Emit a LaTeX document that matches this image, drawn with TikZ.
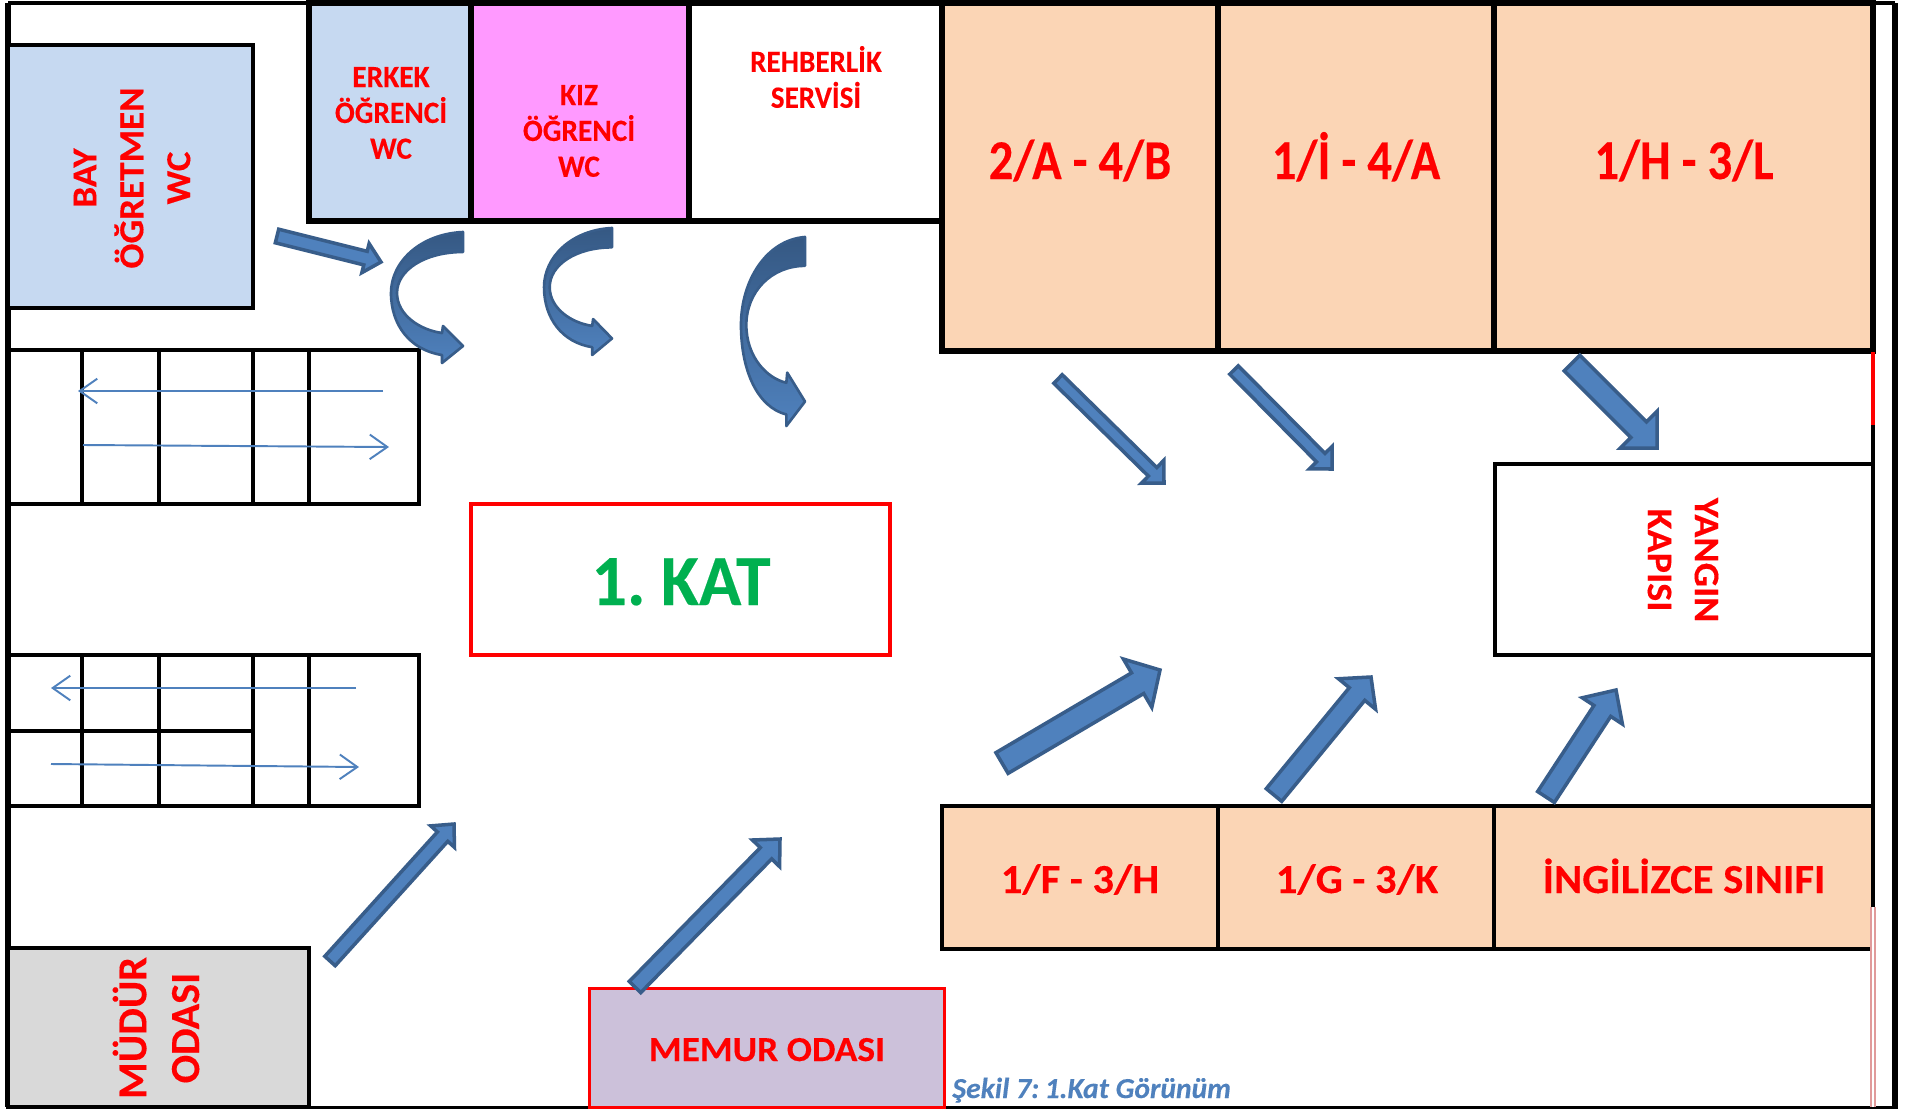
\documentclass[tikz,border=0pt]{standalone}
\usepackage{fontspec}
\setmainfont{Carlito}
\usetikzlibrary{positioning,calc,arrows.meta}
\newcommand{\fs}[3]{\fontsize{#1}{#2}\selectfont\addfontfeature{FakeStretch=#3,FakeBold=0.2}}
\def\px{0.02cm}
\definecolor{wcblue}{HTML}{C6D9F1}
\definecolor{wcpink}{HTML}{FF99FF}
\definecolor{classpeach}{HTML}{FBD5B5}
\definecolor{mudurgray}{HTML}{D9D9D9}
\definecolor{memurlila}{HTML}{CCC1DA}
\definecolor{arrowfill}{HTML}{4F81BD}
\definecolor{arrowedge}{HTML}{385D8A}
\definecolor{katgreen}{HTML}{00B050}
\definecolor{pinkline}{HTML}{E09A9A}
\begin{document}
\begin{tikzpicture}[x=0.02cm,y=-0.02cm,
    room/.style={draw=black,anchor=north west,inner sep=0pt,outer sep=0pt,line width=2.6pt},
    stair/.style={draw=black,line width=2.1pt},
    redroom/.style={room,draw=red,line width=1.7pt},
    lbl/.style={text=red,font=\bfseries,inner sep=0pt,align=center},
    blockarrow/.style={draw=arrowedge,fill=arrowfill,line width=2pt,line join=miter},
    bentarrow/.style={draw=arrowedge,top color=arrowedge!95!black,bottom color=arrowfill,line width=1.5pt,line join=round},
    thinarrow/.style={draw=arrowfill,line width=1.1pt,-{Straight Barb[length=10pt,width=14pt]}}]

	\useasboundingbox (0,0) rectangle (1905,1109);
	\fill[white] (0,0) rectangle (1905,1109);

	% outer walls
	\draw[line width=3.2pt] (8,3) -- (8,1107);
	\draw[line width=2.2pt] (8,3) -- (1895,3);
	\draw[line width=2pt] (8,1107.5) -- (1898,1107.5);
	\draw[line width=3.4pt] (1895,3) -- (1895,1107);

	% top row
	\node[room,fill=wcblue,line width=3.1pt,minimum width=162*\px,minimum height=218*\px] (erkek) at (309,3) {};
	\node[room,fill=wcpink,line width=3.1pt,minimum width=218*\px,minimum height=218*\px] (kiz) at (471,3) {};
	\node[room,line width=3.1pt,minimum width=253*\px,minimum height=218*\px] (rehber) at (689,3) {};
	\node[room,fill=classpeach,line width=3.3pt,minimum width=276*\px,minimum height=348*\px] (ikia) at (942,3) {};
	\node[room,fill=classpeach,line width=3.3pt,minimum width=276*\px,minimum height=348*\px] (birI) at (1218,3) {};
	\node[room,fill=classpeach,line width=3.3pt,minimum width=379*\px,minimum height=348*\px] (birH) at (1494,3) {};
	\node[room,fill=wcblue,minimum width=245*\px,minimum height=263*\px] (bay) at (8,45) {};

	% stairs
	\node[room,stair,minimum width=411*\px,minimum height=154*\px] (stairup) at (8,350) {};
	\node[room,stair,minimum width=411*\px,minimum height=151*\px] (stairdown) at (8,655) {};
	\foreach \sx in {82,159,253,309} {
		\draw[stair] (\sx,350) -- (\sx,504);
		\draw[stair] (\sx,655) -- (\sx,806);
	}
	\coordinate (stairmidL) at (8,731);
	\coordinate (stairmidR) at (253,731);
	\draw[stair] (stairmidL) -- (stairmidR);

	% lower rooms
	\node[room,fill=mudurgray,line width=2.1pt,minimum width=301*\px,minimum height=159*\px] (mudur) at (8,948) {};
	\node[redroom,fill=memurlila,minimum width=355*\px,minimum height=119*\px] (memur) at (589,988) {};
	\node[redroom,line width=2.1pt,minimum width=419*\px,minimum height=151*\px] (kat) at (471,504) {};
	\node[room,minimum width=378*\px,minimum height=191*\px] (yangin) at (1495,464) {};
	\node[room,fill=classpeach,minimum width=276*\px,minimum height=143*\px] (birF) at (942,806) {};
	\node[room,fill=classpeach,minimum width=276*\px,minimum height=143*\px] (birG) at (1218,806) {};
	\node[room,fill=classpeach,minimum width=379*\px,minimum height=143*\px] (ingilizce) at (1494,806) {};

	% right wall pieces
	\coordinate (rw1) at (1873,352);
	\coordinate (rw2) at (1873,425);
	\coordinate (rw3) at (1873,907);
	\coordinate (rw4) at (1873,1107);
	\draw[red,line width=2.2pt] (rw1) -- (rw2);
	\draw[black,line width=2.2pt] (rw2) -- (rw3);
	\draw[pinkline,line width=1.2pt,double=white,double distance=1pt] (rw3) -- (rw4);

	% labels
	\node[lbl,rotate=90,font=\bfseries\fs{20}{26.7}{1.057}] (baytxt) at (132,178) {BAY\\ÖĞRETMEN\\WC};
	\node[lbl,font=\bfseries\fs{17.6}{20.4}{0.95}] (erkektxt) at (391,113) {ERKEK\\ÖĞRENCİ\\WC};
	\node[lbl,font=\bfseries\fs{17.6}{20.4}{0.95}] (kiztxt) at (579,131) {KIZ\\ÖĞRENCİ\\WC};
	\node[lbl,font=\bfseries\fs{17.6}{20.4}{0.94}] (rehbertxt) at (816,77) {REHBERLİK\\SERVİSİ};
	\node[lbl,anchor=base,font=\bfseries\fs{32}{36}{0.865}] (ikiatxt) at (1080,179) {2/A - 4/B};
	\node[lbl,anchor=base,font=\bfseries\fs{32}{36}{0.865}] (birItxt) at (1356,179) {1/İ - 4/A};
	\node[lbl,anchor=base,font=\bfseries\fs{32}{36}{0.865}] (birHtxt) at (1684,179) {1/H - 3/L};
	\node[lbl,anchor=base,text=katgreen,font=\bfseries\fs{41}{46}{0.97}] (kattxt) at (681,605) {1.\hspace{-.08em} KAT};
	\node[lbl,rotate=-90,font=\bfseries\fs{20.5}{26.7}{1.06}] (yangintxt) at (1683,560) {YANGIN\\KAPISI};
	\node[lbl,anchor=base,font=\bfseries\fs{23.5}{28}{1.03}] (birFtxt) at (1080,893) {1/F - 3/H};
	\node[lbl,anchor=base,font=\bfseries\fs{23.5}{28}{1.03}] (birGtxt) at (1357,893) {1/G - 3/K};
	\node[lbl,anchor=base,font=\bfseries\fs{23.5}{28}{1.035}] (ingtxt) at (1684,893) {İNGİLİZCE SINIFI};
	\node[lbl,rotate=90,font=\bfseries\fs{23.5}{30}{1.02}] (mudurtxt) at (156,1028) {MÜDÜR\\ODASI};
	\node[lbl,anchor=base,font=\bfseries\fs{20}{24}{1.066}] (memurtxt) at (767,1061) {MEMUR ODASI};
	\node[inner sep=0pt,anchor=base west,text=arrowfill,font=\bfseries\itshape\fs{16.5}{20}{1.02}] (sekil) at (952,1098) {Şekil 7:\hspace{-.12em} 1.Kat Görünüm};

	% thin arrows on the stairs
	\coordinate (a1s) at (383,391); \coordinate (a1e) at (78,391);
	\coordinate (a2s) at (83,445); \coordinate (a2e) at (389,447);
	\coordinate (a3s) at (356,688); \coordinate (a3e) at (51,688);
	\coordinate (a4s) at (51,764); \coordinate (a4e) at (359,767);
	\foreach \st/\en in {a1s/a1e,a2s/a2e,a3s/a3e,a4s/a4e}
		\draw[thinarrow] (\st) -- (\en);

	% block arrows
	\coordinate (b1s) at (1058,379); \coordinate (b1e) at (1164,483);
	\coordinate (b2s) at (1234,370); \coordinate (b2e) at (1332,469);
	\coordinate (b3s) at (1572,363); \coordinate (b3e) at (1657,448);
	\coordinate (b4s) at (1002,763); \coordinate (b4e) at (1160,670);
	\coordinate (b5s) at (1274,795); \coordinate (b5e) at (1371,677);
	\coordinate (b6s) at (1546,797); \coordinate (b6e) at (1616,690);
	\coordinate (b7s) at (330,961); \coordinate (b7e) at (454,824);
	\coordinate (b8s) at (635,987); \coordinate (b8e) at (780,839);
	\coordinate (b9s) at (277,236); \coordinate (b9e) at (381,262);
	\foreach \st/\en/\wd/\hw/\hl in {b1s/b1e/6/16/16,b2s/b2e/6/16/16,b3s/b3e/11/26/26,
			b4s/b4e/12/28/26,b5s/b5e/10/24/22,b6s/b6e/10/24/25,
			b7s/b7e/7/16/17,b8s/b8e/8/19/20,b9s/b9e/7/15/16}
		\draw[blockarrow] ($(\st)!\wd*\px!90:(\en)$)
			-- ($(\en)!\hl*\px!(\st)!\wd*\px!-90:(\st)$)
			-- ($(\en)!\hl*\px!(\st)!\hw*\px!-90:(\st)$)
			-- (\en)
			-- ($(\en)!\hl*\px!(\st)!\hw*\px!90:(\st)$)
			-- ($(\en)!\hl*\px!(\st)!\wd*\px!90:(\st)$)
			-- ($(\st)!\wd*\px!-90:(\en)$) -- cycle;

	% bent arrows
	\foreach \bx/\by/\bsx/\bsy in {463/232/1/1,612/228/0.944/0.969,805/237/0.889/1.443} {
		\begin{scope}[shift={(\bx,\by)},xscale=\bsx,yscale=\bsy]
			\draw[bentarrow] (0,0) .. controls (-43,2) and (-72,30) .. (-72,61)
				.. controls (-72,93) and (-53,118) .. (-21,123)
				-- (-21,131) -- (0,114) -- (-20,94) -- (-21,101)
				.. controls (-43,98) and (-66,83) .. (-66,61)
				.. controls (-66,38) and (-38,20) .. (0,20) -- cycle;
		\end{scope}
	}

\end{tikzpicture}
\end{document}
